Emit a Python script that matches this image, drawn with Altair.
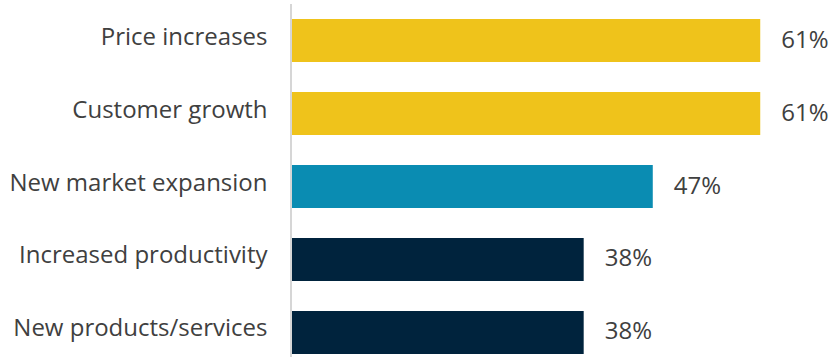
import altair as alt
import pandas as pd

categories = ["Price increases", "Customer growth", "New market expansion",
              "Increased productivity", "New products/services"]
values = [61, 61, 47, 38, 38]
groups = ["top", "top", "mid", "low", "low"]

group_domain = ["top", "mid", "low"]
group_colors = ["#EFC31B", "#0A8CB2", "#00233D"]

df = pd.DataFrame({"category": categories, "value": values, "group": groups})

W, H = 545, 353

y_enc = alt.Y("category:N", sort=None,
              scale=alt.Scale(range=[15, 350], paddingInner=0.41, paddingOuter=0),
              axis=alt.Axis(title=None, domain=False, ticks=False, labelPadding=25,
                            labelOffset=-3,
                            labelFontSize=24, labelFont="Open Sans", labelColor="#404040",
                            labelLimit=400))
x_enc = alt.X("value:Q", scale=alt.Scale(domain=[0, 71.0], nice=False, zero=True),
              axis=None)

bars = alt.Chart(df).mark_bar().encode(
    x=x_enc, y=y_enc,
    color=alt.Color("group:N", scale=alt.Scale(domain=group_domain, range=group_colors),
                    legend=None),
)

labels = alt.Chart(df).transform_calculate(
    label="datum.value + '%'"
).mark_text(align="left", baseline="middle", dx=21, dy=0, fontSize=24,
            font="Open Sans", color="#404040").encode(
    x=x_enc, y=y_enc, text="label:N"
)

line = alt.Chart(df).mark_rule(color="#d6d6d6", strokeWidth=2).encode(
    x=alt.value(-1), y=alt.value(0), y2=alt.value(H)
)

chart = alt.layer(bars, labels, line).properties(
    width=W, height=H,
    autosize=alt.AutoSizeParams(type="none"),
    padding={"left": 292, "top": 4, "right": 0, "bottom": 0},
).configure_view(stroke=None)

chart.save("out.html", embed_options={"renderer": "svg", "actions": False})
